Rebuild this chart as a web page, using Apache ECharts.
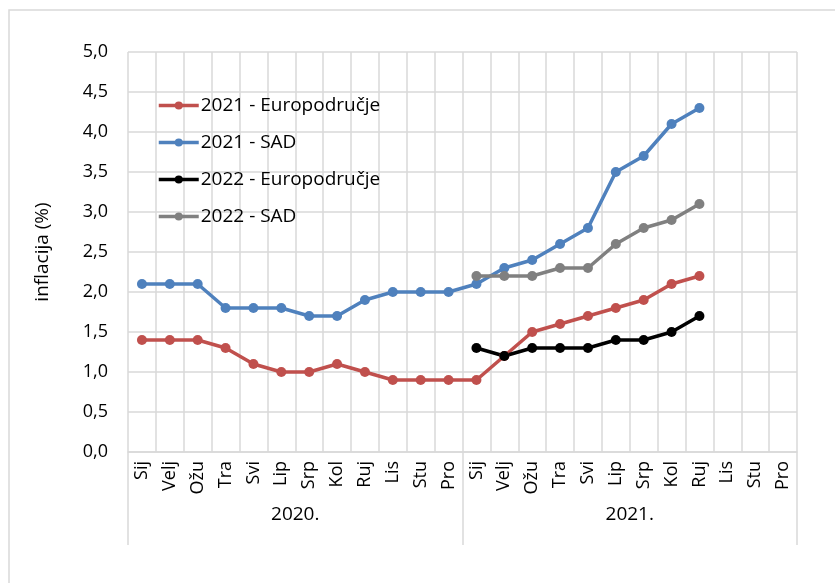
<!DOCTYPE html>
<html>
<head>
<meta charset="utf-8">
<script src="https://cdn.jsdelivr.net/npm/echarts@6/dist/echarts.min.js"></script>
<style>
  html, body { margin: 0; padding: 0; background: #fff; }
  #chart { width: 835px; height: 583px; }
</style>
</head>
<body>
<div id="chart"></div>
<script>
  const months = ["Sij", "Velj", "Ožu", "Tra", "Svi", "Lip", "Srp", "Kol", "Ruj", "Lis", "Stu", "Pro"];
  const years = ["2020.", "2021."];
  const categories = months.concat(months);

  const euro2021 = [1.4, 1.4, 1.4, 1.3, 1.1, 1.0, 1.0, 1.1, 1.0, 0.9, 0.9, 0.9,
                    0.9, 1.2, 1.5, 1.6, 1.7, 1.8, 1.9, 2.1, 2.2, null, null, null];
  const usa2021 = [2.1, 2.1, 2.1, 1.8, 1.8, 1.8, 1.7, 1.7, 1.9, 2.0, 2.0, 2.0,
                   2.1, 2.3, 2.4, 2.6, 2.8, 3.5, 3.7, 4.1, 4.3, null, null, null];
  const euro2022 = [null, null, null, null, null, null, null, null, null, null, null, null,
                    1.3, 1.2, 1.3, 1.3, 1.3, 1.4, 1.4, 1.5, 1.7, null, null, null];
  const usa2022 = [null, null, null, null, null, null, null, null, null, null, null, null,
                   2.2, 2.2, 2.2, 2.3, 2.3, 2.6, 2.8, 2.9, 3.1, null, null, null];

  const font = "'Open Sans', 'Noto Sans', sans-serif";
  const gridColor = "#d9d9d9";

  function lineSeries(name, data, color) {
    return {
      name,
      type: "line",
      data,
      xAxisIndex: 0,
      symbol: "circle",
      symbolSize: 10,
      lineStyle: { color, width: 3.5 },
      itemStyle: { color },
      connectNulls: false
    };
  }

  const chart = echarts.init(document.getElementById("chart"), null, { renderer: "canvas" });

  chart.setOption({
    animation: false,
    graphic: [{
      type: "rect",
      shape: { x: 9, y: 10, width: 900, height: 900 },
      style: { fill: "none", stroke: gridColor, lineWidth: 1.5 },
      silent: true
    }],
    grid: { left: 128, right: 38, top: 52, bottom: 131 },
    legend: {
      orient: "vertical",
      left: 152,
      top: 91,
      itemGap: 18,
      itemWidth: 40,
      itemHeight: 10,
      lineStyle: { width: 3.5 },
      textStyle: { fontFamily: font, fontSize: 19, color: "#000", padding: [0, 0, 0, -3] },
      data: ["2021 - Europodručje", "2021 - SAD", "2022 - Europodručje", "2022 - SAD"]
    },
    xAxis: [
      {
        type: "category",
        data: categories,
        boundaryGap: true,
        position: "bottom",
        axisLine: { show: true, lineStyle: { color: gridColor, width: 1.5 } },
        axisTick: { show: false },
        splitLine: { show: true, interval: 0, lineStyle: { color: gridColor, width: 1.5 } },
        axisLabel: {
          interval: 0,
          rotate: 90,
          margin: 9,
          fontFamily: font,
          fontSize: 18,
          color: "#000"
        }
      },
      {
        type: "category",
        data: years,
        boundaryGap: true,
        position: "bottom",
        axisLine: { show: false },
        axisTick: {
          show: true,
          inside: false,
          length: 93,
          interval: 0,
          lineStyle: { color: gridColor, width: 1.5 }
        },
        splitLine: { show: false },
        axisLabel: {
          interval: 0,
          margin: 53,
          fontFamily: font,
          fontSize: 19,
          color: "#000"
        }
      }
    ],
    yAxis: {
      type: "value",
      min: 0,
      max: 5,
      interval: 0.5,
      name: "inflacija (%)",
      nameLocation: "middle",
      nameGap: 76,
      nameRotate: 90,
      nameTextStyle: { fontFamily: font, fontSize: 19, color: "#000" },
      axisLine: { show: false },
      axisTick: { show: false },
      splitLine: { show: true, lineStyle: { color: gridColor, width: 1.5 } },
      axisLabel: {
        margin: 20,
        fontFamily: font,
        fontSize: 18,
        color: "#000",
        formatter: (v) => v.toFixed(1).replace(".", ",")
      }
    },
    series: [
      lineSeries("2021 - Europodručje", euro2021, "#c0504d"),
      lineSeries("2021 - SAD", usa2021, "#4f81bd"),
      lineSeries("2022 - Europodručje", euro2022, "#000000"),
      lineSeries("2022 - SAD", usa2022, "#808080")
    ]
  });
</script>
</body>
</html>
